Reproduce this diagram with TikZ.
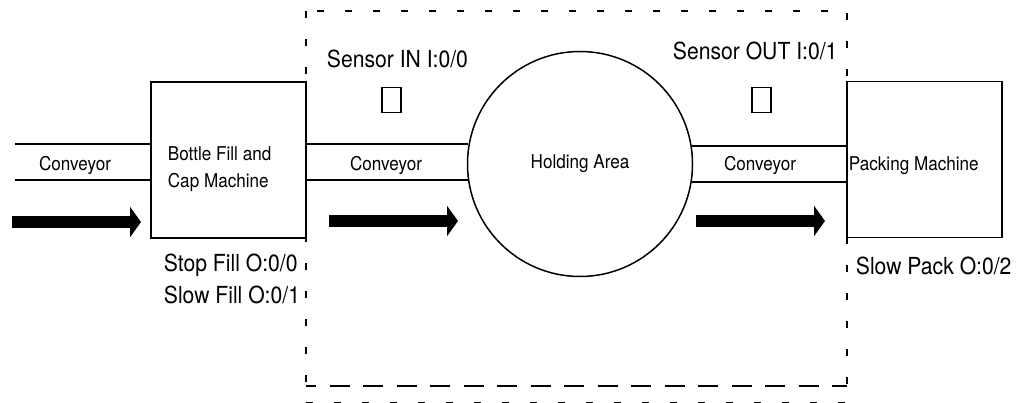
\documentclass[tikz,border=0pt]{standalone}
\usepackage{fontspec}
\setmainfont{TeX Gyre Heros}[FakeStretch=0.9]
\usetikzlibrary{arrows.meta,positioning}

\begin{document}
\begin{tikzpicture}[x=1pt,y=-1pt,line width=1.8pt,
  machine/.style={draw,minimum width=155pt,minimum height=156pt,inner sep=0pt},
  sensorbox/.style={draw,line width=1.5pt,minimum width=19pt,minimum height=25pt,inner sep=0pt},
  flow/.style={-{Triangle[length=11pt,width=30pt]},line width=12pt},
  small/.style={font=\fontsize{19}{26.6}\selectfont,inner sep=0pt},
  big/.style={font=\fontsize{23.5}{31.6}\selectfont,inner sep=0pt}]
\useasboundingbox (0,0) rectangle (1020,403);
% control system boundary
\draw[dash pattern=on 7pt off 21pt] (306,11) rectangle (847,403);
\draw[dash pattern=on 20pt off 13.5pt,dash phase=10pt] (306,386) -- (847,386);
% machines
\node[machine] (fill) at (228.5,160) {};
\node[small,align=left,anchor=base west] (filltxt) at (167,187.3) {Bottle Fill and\\Cap Machine};
\node[machine] (pack) at (924.5,159.5) {};
\node[small,anchor=base west] (packtxt) at (848,170.5) {Packing Machine};
\node[draw,circle,line width=1.5pt,minimum size=225pt,inner sep=0pt,small] (hold) at (580,164) {Holding Area};
% conveyors
\coordinate (src) at (15,163);
\draw (src |- hold.170.3) -- (fill.west |- hold.170.3);
\draw (src |- hold.188.7) -- (fill.west |- hold.188.7);
\draw (fill.east |- hold.170.3) -- (hold.170.3);
\draw (fill.east |- hold.188.7) -- (hold.188.7);
\draw (hold.9.7) -- (pack.west |- hold.9.7);
\draw (hold.351.3) -- (pack.west |- hold.351.3);
\node[small,anchor=base] (conv1) at (75,170.5) {Conveyor};
\node[small,anchor=base] (conv2) at (386,170.5) {Conveyor};
\node[small,anchor=base] (conv3) at (760,170.5) {Conveyor};
% direction of flow
\draw[flow] (12,222) -- (141,222);
\draw[flow] (329,221) -- (458,221);
\draw[flow] (696,221) -- (825,221);
% sensors
\node[sensorbox] (senin) at (391.5,100) {};
\node[sensorbox] (senout) at (761.5,100) {};
\node[big,anchor=base west] (senintxt) at (326,68) {Sensor IN I:0/0};
\node[big,anchor=base west] (senouttxt) at (672,60) {Sensor OUT I:0/1};
% outputs
\node[big,align=left,anchor=base west] (filltags) at (163,303.3) {Stop Fill O:0/0\\Slow Fill O:0/1};
\node[big,anchor=base west] (packtag) at (855,275) {Slow Pack O:0/2};
\end{tikzpicture}
\end{document}
